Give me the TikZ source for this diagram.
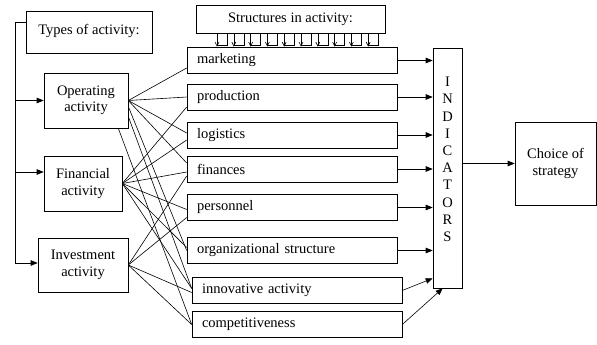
\documentclass[tikz,border=0pt]{standalone}
\usepackage{fontspec}
\setmainfont{Liberation Serif}
\usetikzlibrary{arrows.meta}
\begin{document}
\begin{tikzpicture}[x=1pt,y=-1pt,line width=0.6pt,
  font=\fontsize{14.5}{16.5}\selectfont,
  actbox/.style={draw,align=center,inner sep=2pt},
  strbox/.style={draw,text width=190pt,inner xsep=10pt,inner ysep=0pt,align=left,minimum height=26pt},
  arr/.style={-{Triangle[length=7pt,width=5.5pt]}}]
\useasboundingbox (0,0) rectangle (597,345);

\node [draw,anchor=north,minimum width=126pt,inner sep=4pt,text height=19pt,text depth=15pt] (types) at (89,11) {Types of activity:};
\node [actbox,minimum width=84pt,minimum height=55pt] (op) at (86,100.5) {Operating\\activity};
\node [actbox,minimum width=78pt,minimum height=55pt] (fin) at (83,183.5) {Financial\\activity};
\node [actbox,minimum width=90pt,minimum height=54pt] (inv) at (83,265) {Investment\\activity};

\node [draw,minimum width=189pt,minimum height=28pt] (struct) at (290.5,19) {Structures in activity:};
\foreach \i in {0,...,9} {
  \pgfmathsetmacro{\xa}{217+16.8*\i}
  \draw (\xa,33) -- (\xa,45) -- (\xa+10,45) -- (\xa+10,33);
  \draw (\xa-2,42) -- (\xa,46) -- (\xa+2,42);
}

\node [strbox] (mkt) at (292,60.5) {marketing};
\node [strbox] (prod) at (292,97) {production};
\node [strbox] (log) at (292,135) {logistics};
\node [strbox] (fins) at (292,169) {finances};
\node [strbox] (pers) at (292,207.5) {personnel};
\node [strbox] (org) at (292,250.5) {organizational structure};
\node [strbox] (inn) at (297,290.5) {innovative activity};
\node [strbox] (comp) at (297,324.5) {competitiveness};

\node [draw,minimum width=29pt,minimum height=240pt,align=center,inner sep=0pt,
  font=\fontsize{14.5}{17.2}\selectfont] (ind) at (447.5,168) {I\\N\\D\\I\\C\\A\\T\\O\\R\\S\\\mbox{}};
\node [actbox,minimum width=81pt,minimum height=83pt] (choice) at (555.5,163.5) {Choice of\\strategy};

% left spine
\coordinate (spt) at (15,22);
\coordinate (spb) at (15,263);
\coordinate (finin) at ([yshift=11.5pt]fin.west);
\draw (types.west |- spt) -- (spt) -- (spb);
\draw [arr] (spt |- op.west) -- (op.west);
\draw [arr] (spt |- finin) -- (finin);
\draw [arr] (spb) -- (inv.west |- spb);

% activities to structures
\foreach \t/\dy in {mkt/-7.5,prod/0,log/2,fins/6}
  \draw (op.east) -- ([yshift=\dy pt]\t.west);
\draw ([yshift=-6pt]op.east) -- (org.west);
\draw ([yshift=-16pt]op.east) -- ([yshift=2pt]inn.west);
\draw ([xshift=-10pt]op.south east) -- (comp.west);
\foreach \t/\dy in {prod/-10,log/-5,fins/-3,pers/-2,org/3,inn/2}
  \draw (fin.east) -- ([yshift=\dy pt]\t.west);
\foreach \t/\dy in {fins/-7,pers/-10,inn/-2,comp/0}
  \draw (inv.east) -- ([yshift=\dy pt]\t.west);

% structures to indicators
\foreach \s in {mkt,prod,log,fins,pers,org}
  \draw [arr] (\s.east) -- (\s.east -| ind.west);
\draw [arr] (inn.east) -- ([yshift=10pt]ind.south west);
\draw [arr] (comp.east) -- ([xshift=10pt]ind.south west);
\draw [arr] (ind.east |- choice.west) -- (choice.west);
\end{tikzpicture}
\end{document}
